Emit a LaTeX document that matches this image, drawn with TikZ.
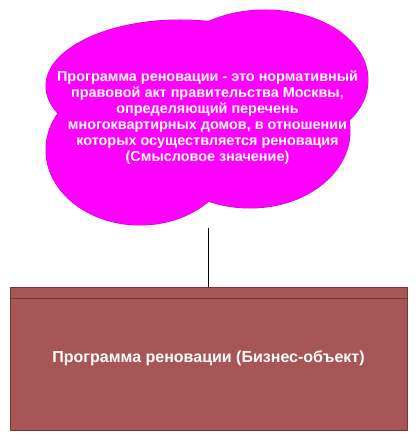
\documentclass[tikz,border=0pt]{standalone}
\usepackage{fontspec}
\setmainfont{Liberation Sans}
\usepackage{tikz}
\usetikzlibrary{positioning}

\definecolor{cloudfill}{RGB}{255,0,255}
\definecolor{cloudline}{RGB}{190,0,190}
\definecolor{bofill}{RGB}{168,85,85}
\definecolor{boline}{RGB}{120,55,55}

\tikzset{
  lobe/.style={fill=cloudfill, draw=none},
  lobeedge/.style={draw=cloudline, line width=1pt},
  lbl/.style={text=white, font=\bfseries\fontsize{14.4}{16}\selectfont, align=center},
  bizbox/.style={rectangle, draw=boline, fill=bofill, minimum width=397pt, minimum height=143pt, inner sep=0pt}
}

\begin{document}
\begin{tikzpicture}[x=1pt, y=-1pt]
        \useasboundingbox (0,0) rectangle (417,441);
        %---------------- Cloud ----------------%
        \foreach \cx/\cy/\rx/\ry in {180/86/134/66, 265/80/103/70, 140/150/94/75, 250/131/100/77}
          \draw[lobeedge] (\cx,\cy) ellipse [x radius=\rx, y radius=\ry];
        \foreach \cx/\cy/\rx/\ry in {180/86/134/66, 265/80/103/70, 140/150/94/75, 250/131/100/77}
          \fill[lobe] (\cx,\cy) ellipse [x radius=\rx, y radius=\ry];
        \node[lbl] (meaning) at (207.5,118) {Программа реновации - это нормативный\\
          правовой акт правительства Москвы,\\
          определяющий перечень\\
          многоквартирных домов, в отношении\\
          которых осуществляется реновация\\
          (Смысловое значение)};
        \coordinate (cloudfoot) at (208.5,228);

        %---------------- Business object ----------------%
        \node[bizbox, anchor=north] (bizobj) at (208.5,286.5) {};
        \node[lbl, font=\bfseries\fontsize{16}{18}\selectfont] (bizname) at (bizobj.center) {Программа реновации (Бизнес-объект)};
        \draw[boline] ([yshift=-11.5pt]bizobj.north west) -- ([yshift=-11.5pt]bizobj.north east);
        \draw (cloudfoot) -- (bizobj.north);
    \end{tikzpicture}
\end{document}
